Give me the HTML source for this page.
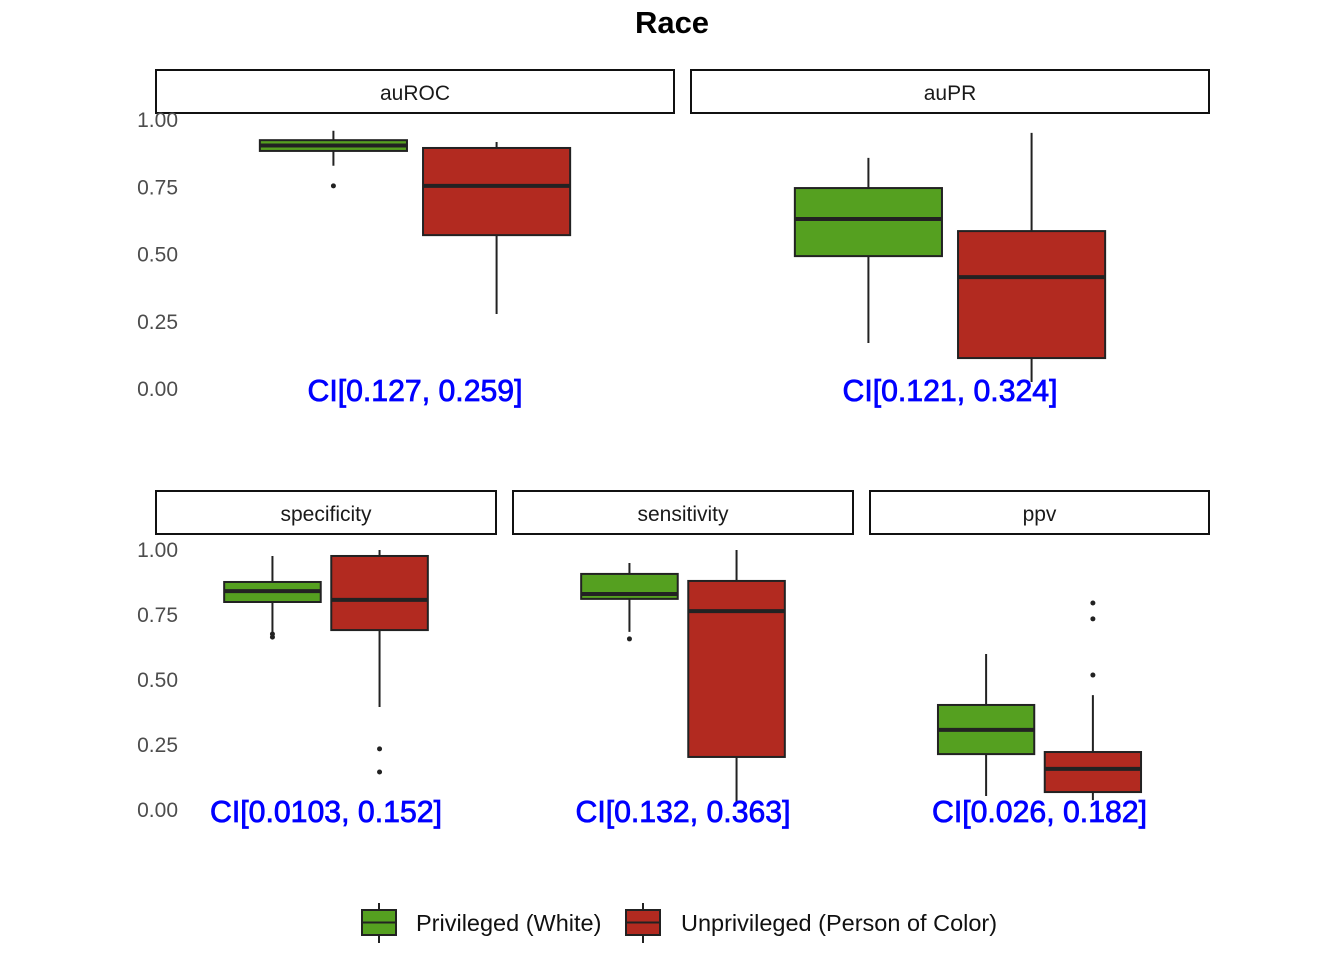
<!DOCTYPE html>
<html><head><meta charset="utf-8"><style>
body{margin:0;background:#fff;}
svg{display:block;font-family:"Liberation Sans",Arial,sans-serif;}
</style></head><body>
<svg id="chart" width="1344" height="960">
<text x="672" y="33" text-anchor="middle" font-size="31" font-weight="bold">Race</text>
<g id="panels"></g>
<g>
  <line x1="379" y1="903" x2="379" y2="943" stroke="#222" stroke-width="2"/>
  <rect x="362" y="910" width="34" height="25" fill="#55a020" stroke="#222" stroke-width="2"/>
  <line x1="362" y1="922.5" x2="396" y2="922.5" stroke="#222" stroke-width="2"/>
  <text x="416" y="931" font-size="23.5" fill="#111">Privileged (White)</text>
  <line x1="643" y1="903" x2="643" y2="943" stroke="#222" stroke-width="2"/>
  <rect x="626" y="910" width="34" height="25" fill="#b22a20" stroke="#222" stroke-width="2"/>
  <line x1="626" y1="922.5" x2="660" y2="922.5" stroke="#222" stroke-width="2"/>
  <text x="681" y="931" font-size="23.5" fill="#111">Unprivileged (Person of Color)</text>
</g>
</svg>
<script>
const panelNames=["auROC","auPR","specificity","sensitivity","ppv"];
const ciLabels=["CI[0.127, 0.259]","CI[0.121, 0.324]","CI[0.0103, 0.152]","CI[0.132, 0.363]","CI[0.026, 0.182]"];
const yTicks=[0,0.25,0.5,0.75,1];
const yTickLabels=["0.00","0.25","0.50","0.75","1.00"];
const groups=["Privileged (White)","Unprivileged (Person of Color)"];
// [lowWhisker, q1, median, q3, highWhisker] per panel: [privileged, unprivileged]
const stats=[
 [[0.83,0.885,0.905,0.925,0.96],[0.279,0.572,0.755,0.896,0.918]],
 [[0.171,0.494,0.632,0.747,0.859],[0.026,0.115,0.416,0.587,0.952]],
 [[0.685,0.80,0.842,0.877,0.977],[0.396,0.692,0.808,0.977,1.0]],
 [[0.685,0.812,0.831,0.908,0.95],[0.031,0.204,0.765,0.881,1.0]],
 [[0.054,0.215,0.308,0.404,0.60],[0.038,0.069,0.158,0.223,0.442]]
];
const outliers=[
 [[0.755],[]],
 [[],[]],
 [[0.677,0.665],[0.235,0.146]],
 [[0.658],[]],
 [[],[0.796,0.735,0.519]]
];
const colors=["#55a020","#b22a20"];
const layout=[
 {x0:156,x1:674,y0:389,y1:120,strip:70},
 {x0:691,x1:1209,y0:389,y1:120,strip:70},
 {x0:156,x1:496,y0:810,y1:550,strip:491},
 {x0:513,x1:853,y0:810,y1:550,strip:491},
 {x0:870,x1:1209,y0:810,y1:550,strip:491}
];
const ciWidths=[215,215,232,215,215];
const NS="http://www.w3.org/2000/svg";
const root=document.getElementById("panels");
function mk(tag,attrs,parent){const e=document.createElementNS(NS,tag);for(const k in attrs)e.setAttribute(k,attrs[k]);parent.appendChild(e);return e;}
panelNames.forEach((name,i)=>{
 const L=layout[i];
 const g=mk("g",{},root);
 
 
 const yS=v=>L.y0+(L.y1-L.y0)*v;
 const w=L.x1-L.x0;
 const centers=[L.x0+w*(0.5-0.1575),L.x0+w*(0.5+0.1575)], bw=w*0.284;
 const strip=mk("rect",{x:L.x0,y:L.strip,width:w,height:43,fill:"#fff",stroke:"#111","stroke-width":2},g);
 
 
 const st=mk("text",{x:L.x0+w/2,y:L.strip+30,"text-anchor":"middle","font-size":21,fill:"#1a1a1a"},g);
 st.textContent=name;
 
 
 if(i===0||i===2){
  yTicks.forEach((t,j)=>{
   const tl=mk("text",{x:178,y:yS(t)+7,"text-anchor":"end","font-size":21,fill:"#4d4d4d"},g);
   tl.textContent=yTickLabels[j];
   
   
  });
 }
 stats[i].forEach((s,k)=>{
  const cx=centers[k];
  const bg=mk("g",{},g);
  
  
  mk("line",{x1:cx,x2:cx,y1:yS(s[0]),y2:yS(s[4]),stroke:"#222","stroke-width":2},bg);
  mk("rect",{x:cx-bw/2,y:yS(s[3]),width:bw,height:yS(s[1])-yS(s[3]),fill:colors[k],stroke:"#222","stroke-width":2},bg);
  mk("line",{x1:cx-bw/2,x2:cx+bw/2,y1:yS(s[2]),y2:yS(s[2]),stroke:"#222","stroke-width":4},bg);
  outliers[i][k].forEach(o=>{
   const c=mk("circle",{cx:cx,cy:yS(o),r:2.5,fill:"#222"},bg);
   
   
  });
 });
 const ci=mk("text",{x:L.x0+w/2-ciWidths[i]/2,y:L.y0+12,"font-size":31,fill:"#0000ff",stroke:"#0000ff","stroke-width":0.8,textLength:ciWidths[i],lengthAdjust:"spacingAndGlyphs"},g);
 ci.textContent=ciLabels[i];
 
 
});
</script>
</body></html>
